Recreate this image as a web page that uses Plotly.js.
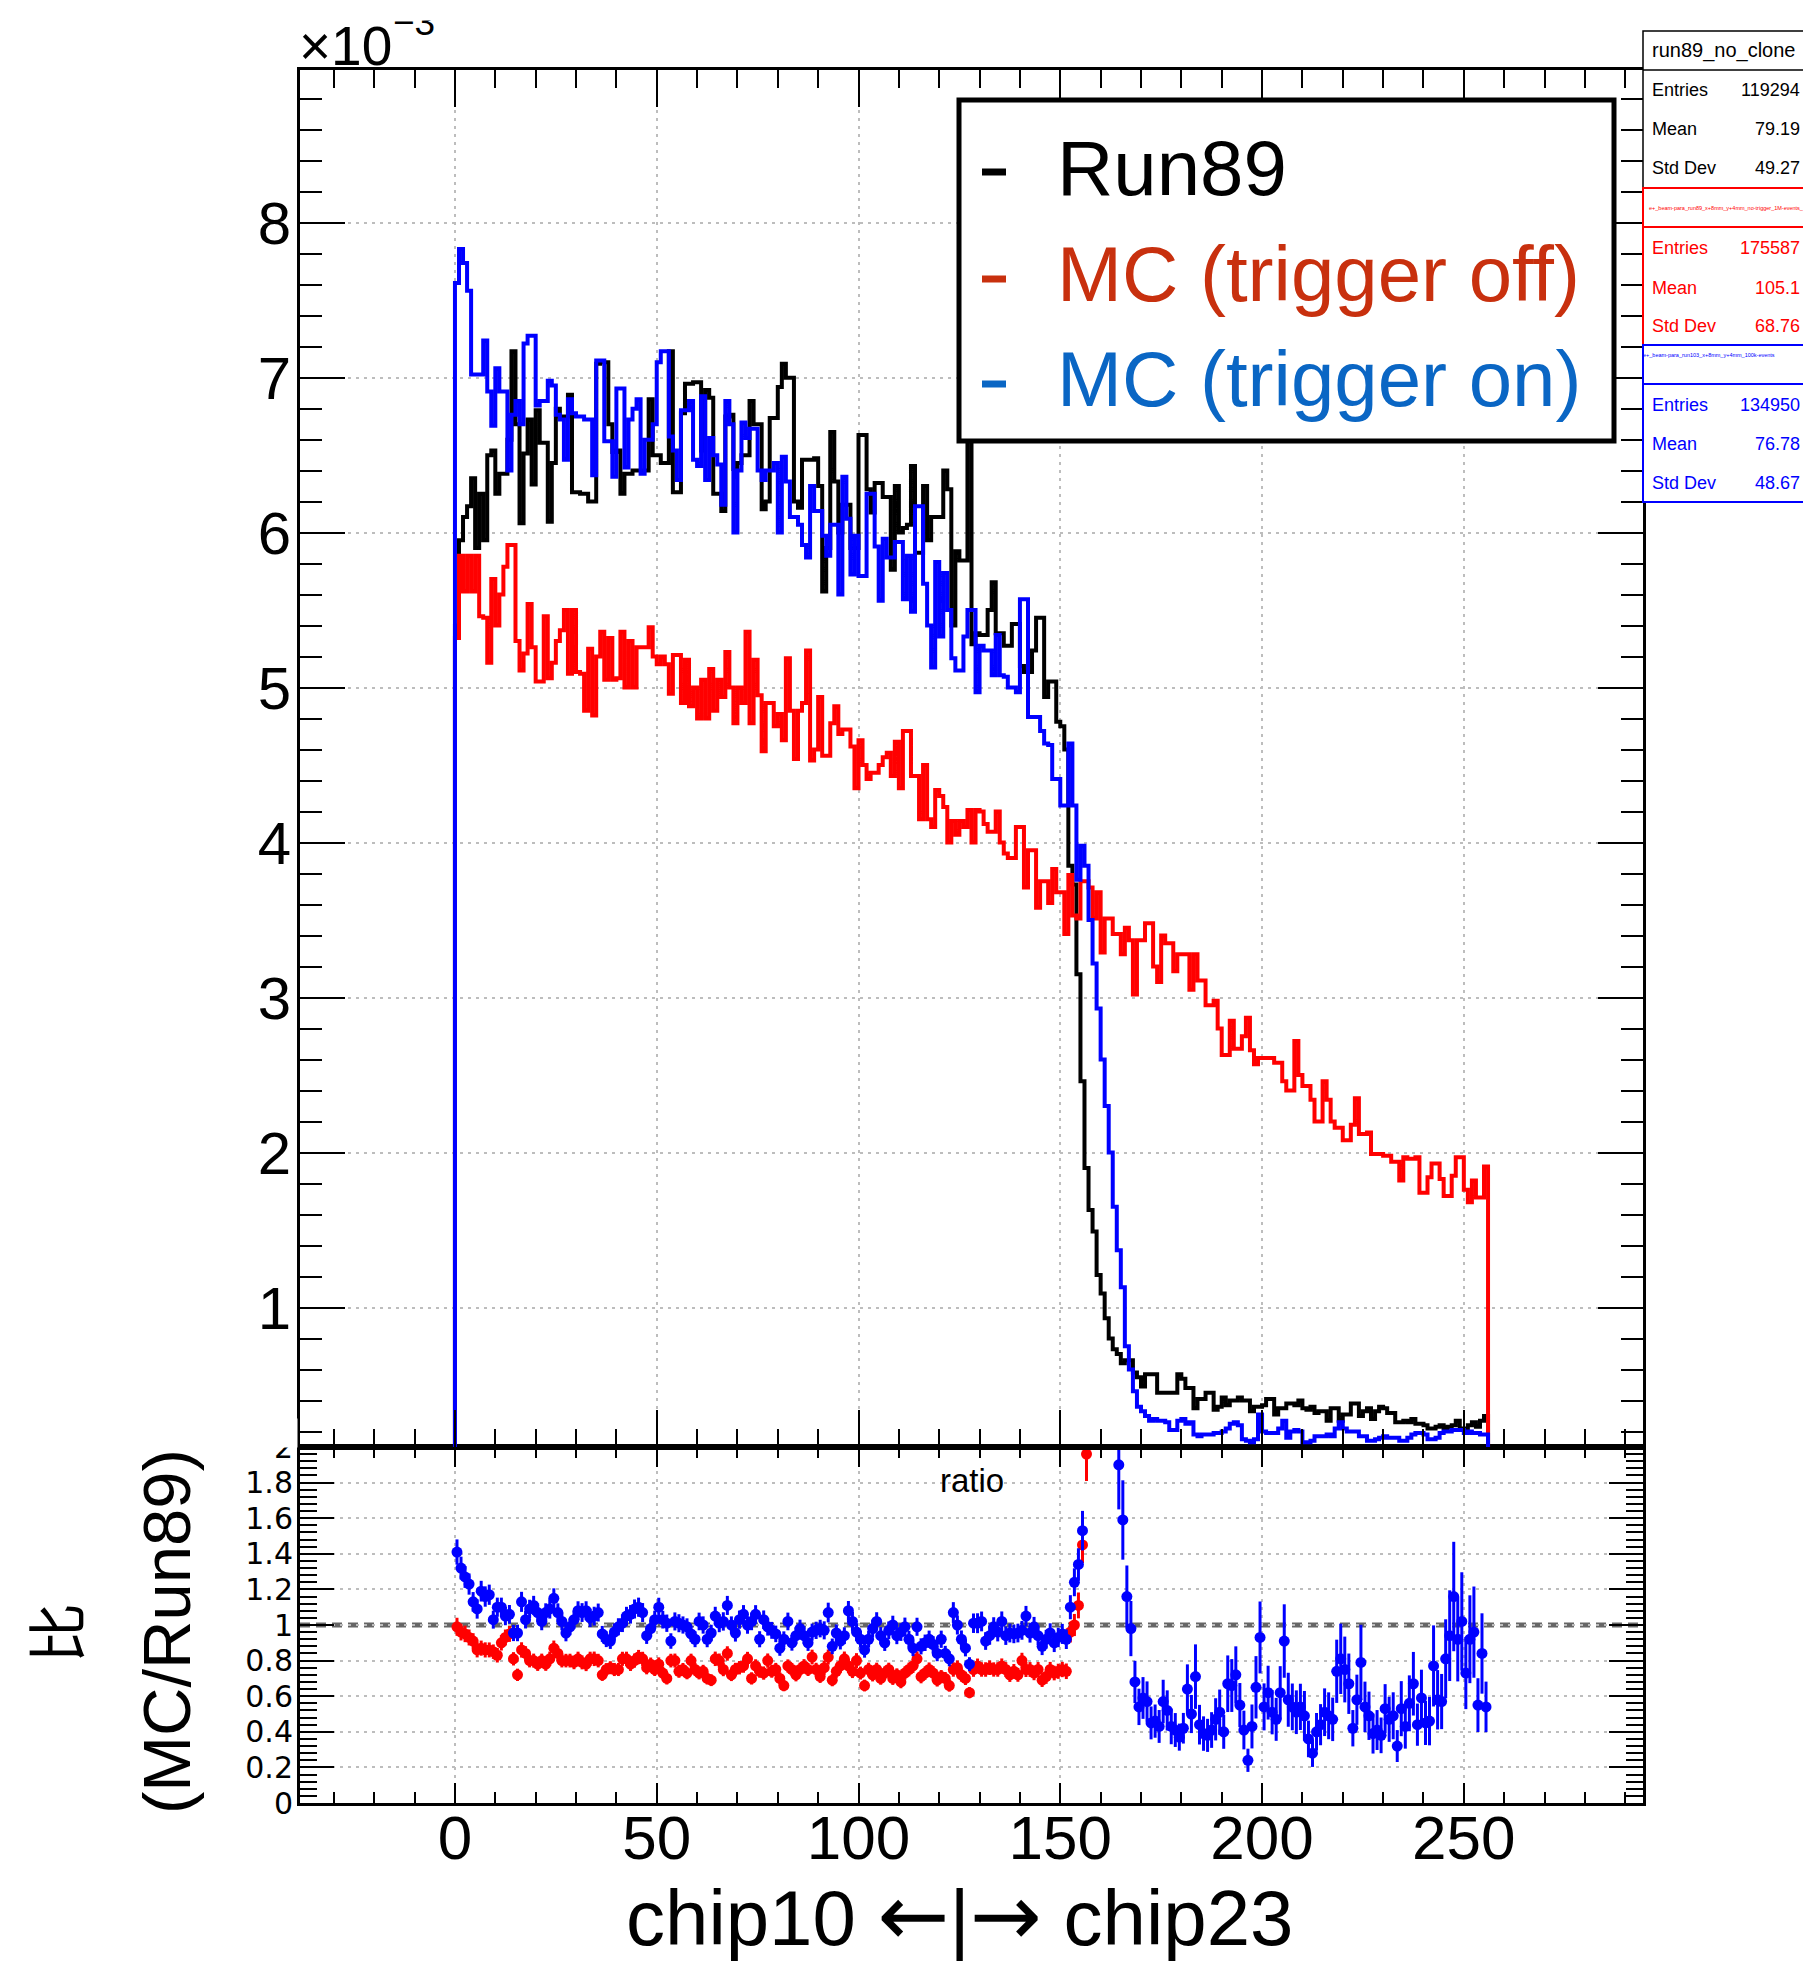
<!DOCTYPE html>
<html><head><meta charset="utf-8">
<script src="https://cdn.plot.ly/plotly-3.0.1.min.js"></script>
<style>html,body{margin:0;padding:0;background:#fff}#plot{width:1803px;height:1966px}</style>
</head><body><div id="plot"></div>
<script>
// ---- data (histograms normalised, in units of 1e-3), 256 bins from 0 to 256 ----
const run89 = [
5.4,5.95,6.1,6.17,6.35,5.9,6.25,5.95,6.5,6.53,
6.25,6.38,6.38,6.6,7.17,6.7,6.06,6.51,6.73,6.31,
6.79,6.58,6.58,6.07,6.45,6.8,6.75,6.75,6.89,6.26,
6.26,6.25,6.25,6.2,6.2,7.09,7.1,7.1,6.7,6.52,
6.53,6.25,6.38,6.38,6.4,6.4,6.4,6.4,6.86,6.5,
6.5,6.45,6.45,7.17,6.26,6.26,6.77,6.96,6.96,6.97,
6.97,6.53,6.92,6.87,6.25,6.25,6.14,6.75,6.76,6.41,
6.45,6.5,6.5,6.85,6.7,6.7,6.15,6.2,6.74,6.74,
6.94,7.09,7.0,7.0,6.2,6.16,6.47,6.47,6.47,6.48,
6.3,5.62,5.9,6.65,6.33,6.0,6.18,6.18,5.9,5.9,
6.63,6.63,6.28,6.13,6.32,6.32,6.23,6.23,5.76,6.3,
6.0,6.03,6.05,6.43,5.87,5.87,6.3,5.95,6.1,6.1,
6.1,6.4,6.28,5.4,5.88,5.82,5.82,7.2,5.28,5.35,
5.34,5.34,5.5,5.68,5.35,5.35,5.27,5.27,5.41,5.41,
5.14,5.1,5.1,5.24,5.45,5.45,4.94,5.04,5.04,4.78,
4.75,4.6,3.85,3.73,3.15,2.46,1.9,1.63,1.49,1.21,
1.09,0.93,0.8,0.73,0.7,0.64,0.66,0.66,0.58,0.55,
0.49,0.57,0.57,0.57,0.45,0.45,0.45,0.45,0.45,0.57,
0.54,0.48,0.48,0.35,0.41,0.41,0.45,0.45,0.34,0.36,
0.42,0.37,0.4,0.4,0.42,0.4,0.4,0.33,0.36,0.36,
0.37,0.41,0.41,0.31,0.35,0.35,0.38,0.38,0.37,0.4,
0.35,0.34,0.36,0.32,0.33,0.33,0.27,0.35,0.35,0.27,
0.31,0.31,0.38,0.38,0.3,0.33,0.35,0.28,0.33,0.36,
0.35,0.32,0.32,0.26,0.26,0.27,0.26,0.28,0.25,0.25,
0.24,0.22,0.22,0.23,0.24,0.22,0.23,0.24,0.27,0.22,
0.22,0.24,0.26,0.23,0.27,0.3];
const mcTrigOff = [
5.32,5.85,5.62,5.85,5.62,5.85,5.46,5.45,5.16,5.7,
5.4,5.6,5.78,5.92,5.92,5.3,5.11,5.22,5.54,5.26,
5.04,5.04,5.46,5.06,5.16,5.3,5.37,5.5,5.09,5.5,
5.1,5.09,4.85,5.25,4.82,5.2,5.36,5.05,5.32,5.05,
5.06,5.36,5.0,5.3,5.0,5.26,5.26,5.26,5.39,5.2,
5.15,5.2,5.15,4.96,5.21,5.21,4.9,5.18,4.88,5.0,
4.8,5.05,4.8,5.12,4.85,5.05,4.94,5.23,5.0,4.77,
5.0,4.9,5.36,4.77,5.18,4.95,4.59,4.9,4.9,4.75,
4.83,4.66,5.19,4.85,4.54,4.85,4.9,5.24,4.53,4.6,
4.94,4.56,4.56,4.77,4.88,4.7,4.73,4.73,4.62,4.35,
4.66,4.5,4.41,4.45,4.45,4.5,4.55,4.58,4.43,4.65,
4.35,4.72,4.72,4.43,4.43,4.15,4.5,4.15,4.1,4.34,
4.3,4.23,4.0,4.14,4.05,4.14,4.1,4.21,4.0,4.21,
4.2,4.12,4.07,4.07,4.2,4.0,3.93,3.9,3.9,4.1,
4.1,3.71,3.95,3.95,3.58,3.75,3.75,3.61,3.83,3.68,
3.68,3.41,3.79,3.53,3.51,3.75,3.75,3.71,3.51,3.68,
3.29,3.51,3.51,3.41,3.41,3.28,3.45,3.37,3.02,3.37,
3.37,3.48,3.48,3.2,3.1,3.4,3.35,3.35,3.17,3.28,
3.28,3.28,3.05,3.28,3.11,3.11,2.95,2.95,2.98,2.8,
2.63,2.63,2.85,2.67,2.67,2.75,2.87,2.66,2.57,2.61,
2.61,2.61,2.61,2.58,2.58,2.46,2.4,2.4,2.72,2.5,
2.43,2.43,2.34,2.2,2.2,2.46,2.34,2.2,2.16,2.16,
2.08,2.08,2.18,2.35,2.12,2.12,2.13,1.99,1.99,1.99,
1.98,1.98,1.94,1.94,1.82,1.97,1.96,1.96,1.97,1.74,
1.74,1.84,1.93,1.93,1.83,1.72,1.72,1.85,1.97,1.97,
1.76,1.68,1.82,1.71,1.71,1.91];
const mcTrigOn = [
7.61,7.83,7.74,7.56,7.02,7.02,7.02,7.24,6.91,6.69,
7.06,6.91,6.91,6.4,6.76,6.85,6.7,7.22,7.27,7.27,
6.82,6.85,6.85,6.98,6.95,6.76,6.73,6.47,6.86,6.77,
6.75,6.75,6.73,6.73,6.37,7.11,7.11,6.59,6.59,6.36,
6.93,6.93,6.42,6.73,6.8,6.86,6.38,6.6,6.6,6.7,
7.1,7.17,7.17,6.62,6.53,6.34,6.79,6.79,6.85,6.47,
6.43,6.88,6.34,6.61,6.5,6.44,6.18,6.85,6.7,6.0,
6.4,6.71,6.61,6.67,6.67,6.4,6.34,6.4,6.4,6.45,
6.0,6.49,6.33,6.1,6.1,6.05,5.92,5.84,6.3,6.14,
6.14,5.98,5.85,6.05,6.05,5.6,6.36,6.09,5.73,5.98,
5.72,5.72,6.25,6.25,5.91,5.56,5.96,5.84,5.84,5.94,
5.94,5.57,5.85,5.49,6.17,6.17,5.67,5.4,5.13,5.81,
5.33,5.74,5.5,5.19,5.11,5.11,5.33,5.5,5.5,4.97,
5.27,5.24,5.24,5.08,5.34,5.08,5.07,5.0,5.0,4.97,
5.57,5.57,4.81,4.81,4.81,4.72,4.64,4.63,4.41,4.41,
4.24,4.24,4.64,4.24,3.76,3.98,3.85,3.5,3.22,2.93,
2.6,2.3,2.0,1.65,1.37,1.13,0.75,0.6,0.46,0.36,
0.33,0.3,0.27,0.28,0.27,0.27,0.26,0.21,0.21,0.27,
0.28,0.25,0.26,0.18,0.17,0.18,0.18,0.18,0.19,0.19,
0.2,0.22,0.25,0.26,0.24,0.15,0.14,0.13,0.15,0.31,
0.2,0.19,0.19,0.19,0.22,0.27,0.16,0.2,0.21,0.2,
0.13,0.13,0.14,0.17,0.17,0.17,0.18,0.17,0.22,0.26,
0.22,0.2,0.2,0.2,0.17,0.17,0.14,0.14,0.15,0.16,
0.17,0.16,0.16,0.16,0.14,0.14,0.16,0.18,0.19,0.19,
0.18,0.15,0.15,0.16,0.19,0.2,0.2,0.21,0.21,0.21,
0.19,0.2,0.19,0.19,0.18,0.18];
// ratio MC/Run89 per bin (bins 0..156 for trigger off; off-scale bins are null)
const ratioTrigOff = [
0.99,0.96,0.95,0.93,0.91,0.86,0.87,0.86,0.86,0.85,
0.83,0.9,0.93,0.95,0.81,0.72,0.86,0.84,0.8,0.8,
0.78,0.8,0.78,0.81,0.87,0.84,0.8,0.8,0.8,0.79,
0.81,0.79,0.78,0.81,0.81,0.8,0.72,0.75,0.76,0.75,
0.75,0.81,0.81,0.78,0.8,0.82,0.81,0.76,0.78,0.75,
0.78,0.73,0.7,0.8,0.8,0.74,0.75,0.73,0.8,0.75,
0.73,0.74,0.7,0.69,0.81,0.8,0.75,0.84,0.72,0.75,
0.76,0.77,0.81,0.7,0.77,0.74,0.73,0.8,0.74,0.75,
0.7,0.66,0.77,0.75,0.72,0.75,0.77,0.75,0.82,0.75,
0.71,0.76,0.82,0.69,0.74,0.77,0.81,0.77,0.74,0.8,
0.73,0.66,0.75,0.72,0.75,0.7,0.73,0.75,0.7,0.72,
0.68,0.73,0.75,0.77,0.81,0.71,0.73,0.75,0.73,0.69,
0.71,0.7,0.66,0.75,0.76,0.72,0.7,0.62,0.75,0.77,
0.75,0.75,0.76,0.75,0.75,0.77,0.75,0.72,0.74,0.72,
0.8,0.75,0.75,0.73,0.75,0.69,0.71,0.75,0.73,0.74,
0.75,0.74,0.96,1.0,1.11,1.45,1.96];
const ratioTrigOn = [
1.41,1.32,1.27,1.23,1.13,1.09,1.19,1.16,1.17,1.03,
1.1,1.1,1.05,1.06,0.955,0.955,1.13,1.03,1.09,1.11,
1.07,1.02,1.07,1.09,1.15,1.07,1.02,0.955,0.99,1.03,
1.08,1.07,1.08,1.04,1.05,1.07,0.95,0.92,0.91,0.96,
0.99,1.01,1.05,1.06,1.09,1.1,1.07,0.94,0.98,1.03,
1.1,1.03,1.01,0.91,1.02,1.01,1.0,0.99,0.95,0.92,
1.02,1.0,0.92,0.955,1.05,1.01,1.02,1.11,1.0,0.955,
1.03,1.06,1.0,1.02,1.06,0.92,1.03,0.99,0.97,0.95,
0.87,0.92,1.02,0.9,0.94,0.98,0.94,0.9,0.96,0.97,
0.98,0.97,1.07,0.88,0.955,0.91,0.94,1.08,1.02,0.96,
0.92,0.86,0.92,0.98,1.02,0.94,0.9,0.97,1.0,0.94,
0.96,0.99,0.92,0.87,0.99,0.88,0.9,0.92,0.89,0.84,
0.92,0.84,0.81,1.07,1.0,0.92,0.87,0.78,1.01,1.01,
1.02,0.91,0.94,0.99,0.96,1.02,0.94,0.955,0.95,0.955,
0.97,1.05,0.955,0.99,0.94,0.88,0.92,0.955,0.9,
0.93,0.95,0.92,1.1,1.24,1.34,1.53,
null,null,null,null,null,null,null,null,
1.9,1.59,1.16,0.98,0.68,0.54,0.59,0.57,0.45,0.46,
0.43,0.57,0.52,0.43,0.41,0.37,0.42,0.64,0.5,0.71,
0.44,0.39,0.38,0.41,0.47,0.51,0.4,0.67,0.66,0.72,
0.55,0.41,0.24,0.43,0.65,0.93,0.54,0.62,0.51,0.47,
0.62,0.91,0.58,0.54,0.51,0.54,0.49,0.36,0.28,0.4,
0.44,0.51,0.49,0.47,0.74,0.81,0.75,0.67,0.42,0.58,
0.79,0.54,0.49,0.39,0.41,0.38,0.53,0.47,0.49,0.32,
0.53,0.43,0.56,0.67,0.44,0.59,0.45,0.46,0.77,0.58,
0.57,0.81,0.94,1.16,0.92,1.02,0.73,0.92,0.96,0.55,
0.84,0.54];
const entriesRun89 = 119294, entriesOff = 175587, entriesOn = 134950;
const statNames = ['Entries','Mean','Std Dev'];
const statRun89 = ['119294','79.19','49.27'];
const statOff = ['175587','105.1','68.76'];
const statOn = ['134950','76.78','48.67'];
const xTickVals = [0,50,100,150,200,250];

// ---- helpers ----
const FONT = 'Liberation Sans, Arial, Helvetica, sans-serif';
const PL=300, PR=1643, PT=70, PB=1803;
const px = x => (x-PL)/(PR-PL);
const py = y => (PB-y)/(PB-PT);
const SPLIT = py(1447);

function steps(vals){
  const xs=[0], ys=[0];
  for(let i=0;i<vals.length;i++){ xs.push(i); ys.push(vals[i]); }
  xs.push(vals.length); ys.push(vals[vals.length-1]);
  xs.push(vals.length); ys.push(0);
  return {xs, ys};
}
function ratioErr(r, mc, nMc){
  return r.map((v,i)=> (v==null) ? null :
    v*Math.sqrt(1/(mc[i]*1e-3*nMc) + 1/(run89[i]*1e-3*entriesRun89)));
}
const sK = steps(run89), sR = steps(mcTrigOff), sB = steps(mcTrigOn);
const LW = 4;
const traces = [
  {x:sK.xs, y:sK.ys, xaxis:'x2', yaxis:'y', mode:'lines', line:{shape:'hv', color:'#000000', width:LW}, hoverinfo:'skip'},
  {x:sR.xs, y:sR.ys, xaxis:'x2', yaxis:'y', mode:'lines', line:{shape:'hv', color:'#ff0000', width:LW}, hoverinfo:'skip'},
  {x:sB.xs, y:sB.ys, xaxis:'x2', yaxis:'y', mode:'lines', line:{shape:'hv', color:'#0000ff', width:LW}, hoverinfo:'skip'},
  {x:ratioTrigOff.map((v,i)=>i+0.5), y:ratioTrigOff, xaxis:'x', yaxis:'y2', mode:'markers',
   marker:{color:'#ff0000', size:11, symbol:'circle'},
   error_y:{type:'data', array:ratioErr(ratioTrigOff, mcTrigOff, entriesOff), visible:true, thickness:3, width:0, color:'#ff0000'}},
  {x:ratioTrigOn.map((v,i)=>i+0.5), y:ratioTrigOn, xaxis:'x', yaxis:'y2', mode:'markers',
   marker:{color:'#0000ff', size:11, symbol:'circle'},
   error_y:{type:'data', array:ratioErr(ratioTrigOn, mcTrigOn, entriesOn), visible:true, thickness:3, width:0, color:'#0000ff'}}
];

const GRID = {showgrid:true, gridcolor:'#bdbdbd', gridwidth:2, griddash:'3px,5px'};
const AX = {showline:true, linewidth:3, linecolor:'black', mirror:'ticks', ticks:'inside', tickwidth:2, tickcolor:'black', zeroline:false};

const ann = [];
function A(text, x, y, size, color, xa, ya, extra){
  ann.push(Object.assign({text, x:px(x), y:py(y), xref:'paper', yref:'paper', xanchor:xa, yanchor:ya,
    showarrow:false, font:{family:FONT, size, color}}, extra||{}));
}
// exponent label (top clipped as in the original)
A('×10', 297, 46, 55, 'black', 'left', 'middle');
A('−3', 391, 22, 37, 'black', 'left', 'middle');
A(' ', 380, -8, 10, 'black', 'left', 'top', {width:80, height:27, bgcolor:'white', borderpad:0});
// hide upper half of the "2" label at the pad boundary
A(' ', 228, 1418, 10, 'black', 'left', 'top', {width:68, height:28, bgcolor:'white', borderpad:0});
// ratio title
A('ratio', 972, 1480, 33, 'black', 'center', 'middle');
// axis titles
const ARW = '<span style="font-family:DejaVu Sans;font-size:86px">';
A('chip10 '+ARW+'←</span>|'+ARW+'→</span> chip23', 959, 1915, 78, 'black', 'center', 'middle');
A('比', 53, 1633, 60, 'black', 'center', 'middle', {textangle:-90, font:{family:'Noto Sans CJK SC, sans-serif', size:60, color:'black'}});
A('(MC/Run89)', 166, 1632, 67, 'black', 'center', 'middle', {textangle:-90});
// legend texts
A('Run89', 1055, 168, 78, 'black', 'left', 'middle');
A('MC (trigger off)', 1055, 274, 78, '#c8300e', 'left', 'middle');
A('MC (trigger on)', 1055, 379, 78, '#0a66c4', 'left', 'middle');
// stats boxes
A('run89_no_clone', 1650, 50, 20, 'black', 'left', 'middle');
A('e+_beam-para_run89_x+8mm_y+4mm_no-trigger_1M-events_', 1647, 208, 5.5, '#ff0000', 'left', 'middle');
A('e+_beam-para_run103_x+8mm_y+4mm_100k-events', 1641, 355, 5.5, '#0000ff', 'left', 'middle');
const rowsY = [[90,129,168],[248,288,326],[405,444,483]];
const sets = [[statRun89,'black'],[statOff,'#ff0000'],[statOn,'#0000ff']];
sets.forEach((s,k)=>{
  statNames.forEach((n,j)=>{
    A(n, 1650, rowsY[k][j], 18, s[1], 'left', 'middle');
    A(s[0][j], 1802, rowsY[k][j], 18, s[1], 'right', 'middle');
  });
});

const shapes = [
  {type:'line', xref:'x', yref:'y2', x0:-38.4, x1:294.4, y0:1, y1:1, layer:'below', line:{color:'#666666', width:5, dash:'10px,6px'}},
  // legend box
  {type:'rect', xref:'paper', yref:'paper', x0:px(959), x1:px(1614), y0:py(100), y1:py(441), layer:'above', fillcolor:'white', line:{color:'black', width:5}},
  {type:'line', xref:'paper', yref:'paper', x0:px(982), x1:px(1006), y0:py(172), y1:py(172), layer:'above', line:{color:'black', width:7}},
  {type:'line', xref:'paper', yref:'paper', x0:px(982), x1:px(1006), y0:py(279), y1:py(279), layer:'above', line:{color:'#c8300e', width:7}},
  {type:'line', xref:'paper', yref:'paper', x0:px(982), x1:px(1006), y0:py(384), y1:py(384), layer:'above', line:{color:'#0a66c4', width:7}},
  // stats boxes
  {type:'rect', xref:'paper', yref:'paper', x0:px(1643), x1:px(1830), y0:py(31), y1:py(188), layer:'above', fillcolor:'white', line:{color:'black', width:1.5}},
  {type:'line', xref:'paper', yref:'paper', x0:px(1643), x1:px(1830), y0:py(70), y1:py(70), layer:'above', line:{color:'black', width:1.5}},
  {type:'rect', xref:'paper', yref:'paper', x0:px(1643), x1:px(1830), y0:py(188), y1:py(345), layer:'above', fillcolor:'white', line:{color:'#ff0000', width:2}},
  {type:'line', xref:'paper', yref:'paper', x0:px(1643), x1:px(1830), y0:py(227), y1:py(227), layer:'above', line:{color:'#ff0000', width:2}},
  {type:'rect', xref:'paper', yref:'paper', x0:px(1643), x1:px(1830), y0:py(345), y1:py(502), layer:'above', fillcolor:'white', line:{color:'#0000ff', width:2}},
  {type:'line', xref:'paper', yref:'paper', x0:px(1643), x1:px(1830), y0:py(384), y1:py(384), layer:'above', line:{color:'#0000ff', width:2}}
];

const layout = {
  width:1803, height:1966,
  margin:{l:PL, r:1803-PR, t:PT, b:1966-PB, pad:0},
  paper_bgcolor:'white', plot_bgcolor:'white', showlegend:false,
  font:{family:FONT, color:'black'},
  xaxis:Object.assign({}, AX, GRID, {domain:[0,1], anchor:'y2', range:[-38.4,294.4], tickmode:'array', tickvals:xTickVals,
    ticklen:20, tickfont:{size:62, family:FONT}, ticklabelstandoff:-21,
    minor:{dtick:10, tick0:0, ticklen:11, tickwidth:2, tickcolor:'black', ticks:'inside', showgrid:false}}),
  xaxis2:Object.assign({}, AX, GRID, {domain:[0,1], anchor:'y', range:[-38.4,294.4], tickmode:'array', tickvals:xTickVals,
    ticklen:37, showticklabels:false,
    minor:{dtick:10, tick0:0, ticklen:18, tickwidth:2, tickcolor:'black', ticks:'inside', showgrid:false}}),
  yaxis:Object.assign({}, AX, GRID, {domain:[SPLIT,1], anchor:'x2', range:[0.1,8.985], tick0:0, dtick:1,
    ticklen:45, tickfont:{size:60, family:FONT}, ticklabelstandoff:-6,
    minor:{dtick:0.2, tick0:0, ticklen:22, tickwidth:2, tickcolor:'black', ticks:'inside', showgrid:false}}),
  yaxis2:Object.assign({}, AX, GRID, {domain:[0,SPLIT], anchor:'x', range:[0,2], tick0:0, dtick:0.2,
    ticklen:34, tickfont:{size:30, family:'DejaVu Sans, sans-serif'}, ticklabelstandoff:-2,
    minor:{dtick:0.04, tick0:0, ticklen:17, tickwidth:2, tickcolor:'black', ticks:'inside', showgrid:false}}),
  shapes, annotations:ann
};
Plotly.newPlot('plot', traces, layout, {staticPlot:true, displayModeBar:false});
</script>
</body></html>
